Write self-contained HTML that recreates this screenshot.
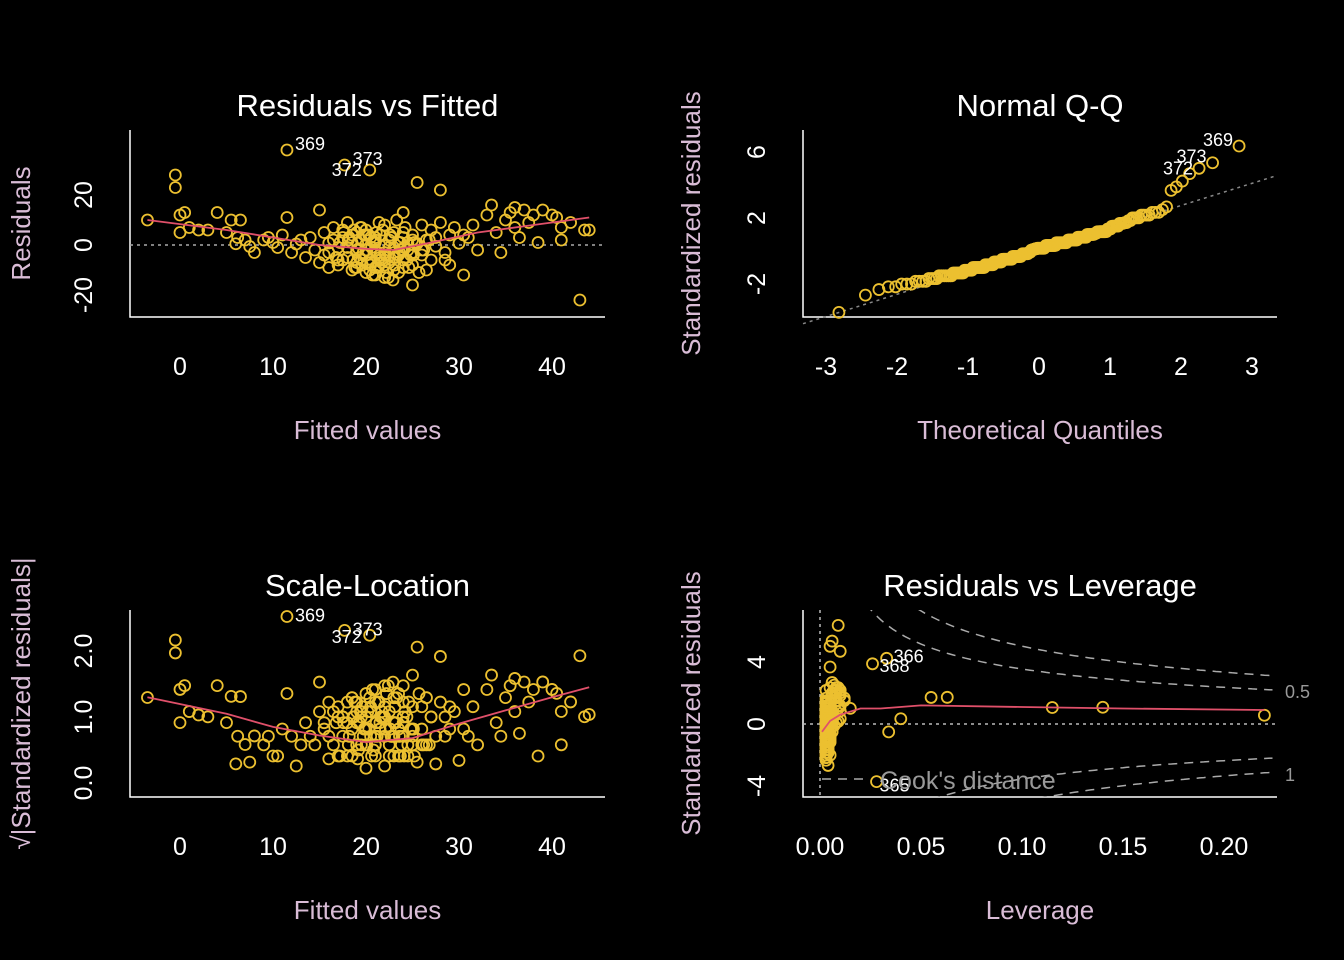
<!DOCTYPE html>
<html><head><meta charset="utf-8"><style>
html,body{margin:0;padding:0;background:#000;overflow:hidden;width:1344px;height:960px;}
svg{display:block;font-family:"Liberation Sans",Arial,sans-serif;}
</style></head><body>
<svg id="chart" width="1344" height="960" viewBox="0 0 1344 960" xmlns="http://www.w3.org/2000/svg">
<rect width="1344" height="960" fill="#000"/>
</svg>
<script>
// ---- data ----
const fitted = [-3.5,-0.5,-0.5,0,0.5,0,1,2,3,4,5,5.5,6,6.2,6.5,7,7.5,8,9,9.5,10,10.5,11,11.5,11.5,12,12.5,13,13.5,14,14.5,15,15,15.5,16,16,16.5,17,17,17.5,17.7,18,18,18.5,18.5,19,19,19.5,19.5,20,20,20,20.4,20.5,20.5,21,21,21,21.5,21.5,22,22,22,22.5,22.5,23,23,23,23.5,23.5,24,24,24,24.5,25,25,25,25.5,25.5,26,26,26.5,27,27,27.5,28,28,28.5,29,29,30,30.5,31,31.5,32,33,33.5,34,34.5,35,35.5,36,36,36.5,37,37.5,38,38.5,39,40,40.5,41,41,42,43,43.5,44,
 16,17,18,19,20,21,22,23,24,25,19.5,20.5,21.5,22.5,23.5,18.5,24.5,21,22,20,23,19,25,26,17.5,22,21,20,23,24,
 15.5,16.5,17.5,18.2,18.8,19.2,19.8,20.2,20.8,21.2,
 21.8,22.2,22.8,23.2,23.8,24.2,24.8,25.2,19.6,20.6,
 21.6,22.6,23.6,18.6,17.6,24.6,21.4,22.4,20.4,19.4,
 16.8,26.5,27.5,28.5,29.5,30.5,20.1,21.1,22.1,23.1,
 19.1,18.1,24.1,25.1,20.7,21.7,22.7,23.7,19.7,18.7,
 17.2,26.2,22.9,21.3,20.3,24.4,23.3,19.3,25.7,26.8];
const resid = [10,28,23,12,13,5,7,6,6,13,5,10,0.5,3,10,2,-0.6,-3,2,3,1,-1,4,38,11,-3,0.4,2,-5,3,-2,14,-7,5,0.8,-3,7,-1,-8,3,32,9,-5,1,-10,5,-2,-6,2,0.3,-4,6,30,-8,3,-2,1,-12,4,-5,-0.4,-3,8,-7,2,-1,5,-10,-4,1,-6,3,13,-2,-16,4,-8,25,0.6,8,-4,2,-6,6,-0.5,22,9,-3,4,-8,0.7,-12,3,8,-2,12,16,5,-3,10,13,7,15,3,14,9,12,1,14,12,11,7,2,9,-22,6,6,
 -9,-6,-1,-9,-11,3,-8,-5,-9,-3,7,-7,-4,-1,-11,4,1,2,-6,-2,-3,-7,2,-2,6,-13,-9,4,-5,5,
 -4,2,-6,3,-9,-1.5,4,-7,1.5,-3,
 6,-11,3,-5,-2,7,-4,1,-8,-1,
 -6,4,-3,-6,5,-9,9,-13,-10,7,
 -5,-10,3,-6,7,4,-2,5,-4,-8,
 0.8,2,-1,-4,-12,-7,3,1,-3,6,
 1,-2,-14,-9,4,-6,10,-5,-11,2];
const leverage = [0.012,0.01,0.026,0.01,0.01,0.01,0.009,0.115,0.009,0.008,0.008,0.063,0.008,0.007,0.055,0.04,0.007,0.034,0.006,0.006,0.006,0.006,0.006,0.009,0.006,0.006,0.005,0.005,0.005,0.005,0.005,0.005,0.005,0.005,0.004,0.004,0.004,0.004,0.004,0.004,0.006,0.004,0.004,0.004,0.004,0.003,0.003,0.003,0.003,0.003,0.003,0.003,0.005,0.003,0.003,0.003,0.003,0.003,0.003,0.003,0.003,0.003,0.003,0.003,0.003,0.003,0.003,0.003,0.003,0.003,0.003,0.003,0.003,0.003,0.004,0.003,0.003,0.033,0.003,0.003,0.003,0.003,0.004,0.004,0.004,0.005,0.004,0.004,0.004,0.004,0.004,0.005,0.005,0.005,0.005,0.006,0.006,0.006,0.006,0.007,0.007,0.007,0.007,0.22,0.008,0.008,0.008,0.009,0.009,0.01,0.01,0.01,0.01,0.012,0.028,0.015,0.14,
 0.003,0.004,0.004,0.003,0.003,0.003,0.003,0.003,0.003,0.004,0.003,0.003,0.003,0.003,0.003,0.004,0.003,0.003,0.003,0.003,0.003,0.003,0.004,0.004,0.004,0.003,0.003,0.003,0.003,0.003,
 0.005,0.004,0.004,0.003,0.003,0.003,0.003,0.003,0.003,0.003,
 0.003,0.003,0.003,0.003,0.003,0.004,0.004,0.004,0.003,0.003,
 0.003,0.003,0.003,0.003,0.004,0.004,0.003,0.003,0.003,0.003,
 0.004,0.004,0.005,0.005,0.005,0.006,0.003,0.003,0.003,0.003,
 0.003,0.004,0.004,0.004,0.003,0.003,0.003,0.003,0.003,0.003,
 0.004,0.004,0.003,0.003,0.003,0.004,0.003,0.003,0.004,0.004];
const sigma = 6;
const smoothFitX = [-3.5,5,10,15,20,23,27,32,38,44];
const smoothFitY = [10,6,3,0,-1.5,-2,1,5,8,11];
const smoothSLX = [-3.5,5,10,15,20,25,30,35,40,44];
const smoothSLY = [1.3,1.05,0.85,0.72,0.62,0.68,0.9,1.1,1.3,1.45];
const smoothLevX = [0.001,0.005,0.01,0.02,0.03,0.05,0.1,0.15,0.22];
const smoothLevY = [-0.5,0.2,0.6,1.0,1.0,1.2,1.1,1.0,0.9];
const fitTicks = [0,10,20,30,40];
const residTicks = [-20,0,20];
const qqTicksX = [-3,-2,-1,0,1,2,3];
const qqTicksY = [-2,2,6];
const slTicks = [0.0,1.0,2.0];
const levTicksX = [0.00,0.05,0.10,0.15,0.20];
const levTicksY = [-4,0,4];
const cookLevels = [0.5,1];
const nParams = 2.8;
const labelled = {23:'369', 40:'373', 52:'372'};
const levLabelled = {77:'366', 2:'368', 114:'365'};

// ---- scales ----
const X1 = v => 180 + v*9.3, Y1 = v => 245 - v*2.5;
const X2 = v => 1039 + v*71, Y2 = v => 251 - v*16.5;
const Y3 = v => 783 - v*66;
const X4 = v => 820 + v*2020, Y4 = v => 724 - v*15.5;

const svg = document.getElementById('chart');
const NS = 'http://www.w3.org/2000/svg';
function mk(tag, attrs, parent){const e=document.createElementNS(NS,tag);for(const k in attrs)e.setAttribute(k,attrs[k]);(parent||svg).appendChild(e);return e;}
function txt(s, attrs, parent){const e=mk('text',attrs,parent);e.textContent=s;return e;}
const PT='#ecc030', SM='#e0506a', LAB='#d9bcd6';

function panel(name, x0,y0,x1,y1, title, xlab, ylab, ylabX){
  const g=mk('g',{});
  
  
  const ax=mk('path',{d:`M${x0} ${y0}V${y1}H${x1}`,stroke:'#fff','stroke-width':1.5,fill:'none'},g);
  
  const t=txt(title,{x:(x0+x1)/2,y:y0-14,'text-anchor':'middle','font-size':31,fill:'#fff'},g);
  
  const xl=txt(xlab,{x:(x0+x1)/2,y:y1+122,'text-anchor':'middle','font-size':26,fill:LAB},g);
  
  const yl=txt(ylab,{x:0,y:0,transform:`translate(${ylabX},${(y0+y1)/2}) rotate(-90)`,'text-anchor':'middle','font-size':26,fill:LAB},g);
  
  return g;
}
function xticks(g,ticks,X,y,fmt){ticks.forEach(v=>{const e=txt(fmt?fmt(v):String(v),{x:X(v),y:y,'text-anchor':'middle','font-size':25,fill:'#fff'},g);});}
function yticks(g,ticks,Y,x,fmt){ticks.forEach(v=>{const e=txt(fmt?fmt(v):String(v),{x:0,y:0,transform:`translate(${x},${Y(v)}) rotate(-90)`,'text-anchor':'middle','font-size':25,fill:'#fff'},g);});}
function pts(g,xs,ys){const pg=mk('g',{},g);
  xs.forEach((x,i)=>{const c=mk('circle',{cx:x,cy:ys[i],r:5.5,fill:'none',stroke:PT,'stroke-width':1.8},pg);});}
function line(g,xs,ys,attrs,name){const d=xs.map((x,i)=>(i?'L':'M')+x.toFixed(1)+' '+ys[i].toFixed(1)).join('');const p=mk('path',Object.assign({d:d,fill:'none'},attrs),g);return p;}
function label(g,x,y,s,anchor){const e=txt(s,{x:x,y:y,'font-size':18,fill:'#fff','text-anchor':anchor||'start'},g);}

const std = resid.map((r,i)=>r/(sigma*Math.sqrt(1-leverage[i])));

// ---- Panel 1 ----
let g=panel('residuals-vs-fitted-panel',130,130,605,317,'Residuals vs Fitted','Fitted values','Residuals',30);
xticks(g,fitTicks,X1,375); yticks(g,residTicks,Y1,92);
line(g,[130,605],[Y1(0),Y1(0)],{stroke:'#aaa','stroke-width':1.5,'stroke-dasharray':'3,4'},'zero-line');
pts(g,fitted.map(X1),resid.map(Y1));
line(g,smoothFitX.map(X1),smoothFitY.map(Y1),{stroke:SM,'stroke-width':1.8},'smoother-line');
for(const i in labelled){label(g,X1(fitted[i])+(i==52?-8:8),Y1(resid[i])+(i==52?6:0),labelled[i],i==52?'end':'start');}

// ---- Panel 2 ----
function qnorm(p){const a=[-39.6968302866538,220.946098424521,-275.928510446969,138.357751867269,-30.6647980661472,2.50662827745924],b=[-54.4760987982241,161.585836858041,-155.698979859887,66.8013118877197,-13.2806815528857],c=[-0.00778489400243029,-0.322396458041136,-2.40075827716184,-2.54973253934373,4.37466414146497,2.93816398269878],d=[0.00778469570904146,0.32246712907004,2.445134137143,3.75440866190742];const pl=0.02425;let q,r;if(p<pl){q=Math.sqrt(-2*Math.log(p));return(((((c[0]*q+c[1])*q+c[2])*q+c[3])*q+c[4])*q+c[5])/((((d[0]*q+d[1])*q+d[2])*q+d[3])*q+1);}if(p>1-pl){q=Math.sqrt(-2*Math.log(1-p));return-(((((c[0]*q+c[1])*q+c[2])*q+c[3])*q+c[4])*q+c[5])/((((d[0]*q+d[1])*q+d[2])*q+d[3])*q+1);}q=p-0.5;r=q*q;return(((((a[0]*r+a[1])*r+a[2])*r+a[3])*r+a[4])*r+a[5])*q/(((((b[0]*r+b[1])*r+b[2])*r+b[3])*r+b[4])*r+1);}
g=panel('normal-qq-panel',803,130,1277,317,'Normal Q-Q','Theoretical Quantiles','Standardized residuals',700);
xticks(g,qqTicksX,X2,375); yticks(g,qqTicksY,Y2,765);
const n=std.length; const order=std.map((v,i)=>i).sort((a,b)=>std[a]-std[b]);
const theo=new Array(n); order.forEach((idx,k)=>{theo[idx]=qnorm((k+0.5)/n);});
const sorted=order.map(i=>std[i]);
const q25=sorted[Math.floor(n*0.25)], q75=sorted[Math.floor(n*0.75)], z25=qnorm(0.25), z75=qnorm(0.75);
const slope=(q75-q25)/(z75-z25), icpt=q25-slope*z25;
line(g,[803,1277],[Y2(icpt+slope*(-3.3)),Y2(icpt+slope*3.3)],{stroke:'#888','stroke-width':1.5,'stroke-dasharray':'3,4'},'qq-reference-line');
pts(g,theo.map(X2),std.map(Y2));
for(const i in labelled){label(g,X2(theo[i])-6,Y2(std[i])+(i==52?6:0),labelled[i],'end');}

// ---- Panel 3 ----
g=panel('scale-location-panel',130,610,605,797,'Scale-Location','Fitted values','\u221A|Standardized residuals|',30);
xticks(g,fitTicks,X1,855); yticks(g,slTicks,Y3,92,v=>v.toFixed(1));
const sq=std.map(v=>Math.sqrt(Math.abs(v)));
pts(g,fitted.map(X1),sq.map(Y3));
line(g,smoothSLX.map(X1),smoothSLY.map(Y3),{stroke:SM,'stroke-width':1.8},'smoother-line');
for(const i in labelled){label(g,X1(fitted[i])+(i==52?-8:8),Y3(sq[i])+(i==52?8:5),labelled[i],i==52?'end':'start');}

// ---- Panel 4 ----
g=panel('residuals-vs-leverage-panel',803,610,1277,797,'Residuals vs Leverage','Leverage','Standardized residuals',700);
xticks(g,levTicksX,X4,855,v=>v.toFixed(2)); yticks(g,levTicksY,Y4,765);
const cp=mk('clipPath',{id:'clip4'},svg); mk('rect',{x:803,y:610,width:474,height:187},cp);
const cg=mk('g',{'clip-path':'url(#clip4)'},g);  
cookLevels.forEach(c=>{[1,-1].forEach(sgn=>{const hs=[],ys=[];for(let h=0.004;h<=0.226;h+=0.002){hs.push(X4(h));ys.push(Y4(sgn*Math.sqrt(c*nParams*(1-h)/h)));}line(cg,hs,ys,{stroke:'#aaa','stroke-width':1.5,'stroke-dasharray':'9,7'},'cooks-contour');});
 const e=txt(String(c),{x:1285,y:(c==0.5?698:781),'font-size':18,fill:'#999'},g);});
line(g,[803,1277],[Y4(0),Y4(0)],{stroke:'#bbb','stroke-width':1.5,'stroke-dasharray':'3,4'},'zero-line');
line(g,[X4(0),X4(0)],[610,797],{stroke:'#bbb','stroke-width':1.5,'stroke-dasharray':'3,4'},'zero-leverage-line');
pts(g,leverage.map(X4),std.map(Y4));
line(g,smoothLevX.map(X4),smoothLevY.map(Y4),{stroke:SM,'stroke-width':1.8},'smoother-line');
for(const i in levLabelled){label(g,X4(leverage[i])+(i==114?3:7),Y4(std[i])+(i==114?10:(i==2?8:4)),levLabelled[i]);}
line(g,[822,870],[779,779],{stroke:'#aaa','stroke-width':1.5,'stroke-dasharray':'9,7'},'cooks-legend-line');
const ct=txt("Cook's distance",{x:880,y:789,'font-size':25,fill:'#999'},g);
</script>
</body></html>
